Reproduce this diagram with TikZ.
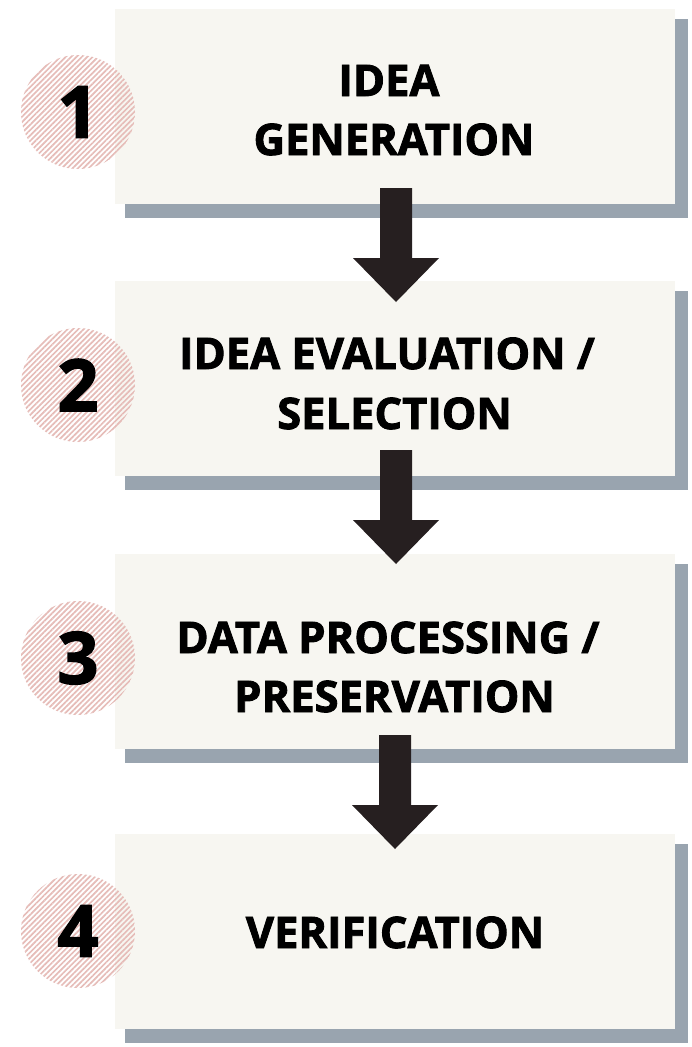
\documentclass[tikz,border=0pt]{standalone}
\usepackage{fontspec}
\usetikzlibrary{calc,backgrounds,patterns.meta}
\IfFontExistsTF{Open Sans ExtraBold}
  {\newfontfamily\heavyface{Open Sans ExtraBold}}
  {\newfontfamily\heavyface{Open Sans Bold}[FakeBold=2]}
\definecolor{boxfill}{RGB}{247,246,241}
\definecolor{shadowc}{RGB}{153,164,175}
\definecolor{arrowc}{RGB}{38,31,32}
\definecolor{hatchc}{RGB}{230,188,184}
\tikzset{
  stepbox/.style={rectangle, fill=boxfill, inner sep=0pt, outer sep=0pt,
    minimum width=560, minimum height=195, anchor=north west},
  numdisc/.style={circle, inner sep=0pt, minimum size=114,
    pattern={Lines[angle=45,distance=3.8pt,line width=1.7pt]}, pattern color=hatchc,
    font=\heavyface\fontsize{72}{80}\selectfont, text=black},
  label/.style={anchor=base, inner sep=0pt, text=black,
    font=\heavyface\fontsize{43.5}{50}\selectfont},
}
% block arrow from shaft top (#1) down to tip (#2)
\newcommand\steparrow[2]{%
  \fill[arrowc] ($(#1)+(-16,0)$) -- ($(#1)+(16,0)$) -- ($(#2)+(16,-44)$)
    -- ($(#2)+(43,-44)$) -- (#2) -- ($(#2)+(-43,-44)$) -- ($(#2)+(-16,-44)$) -- cycle;}
\begin{document}
\begin{tikzpicture}[x=1pt,y=-1pt]
\useasboundingbox (0,0) rectangle (692,1047);
\begin{scope}[on background layer]
  \fill[white] (0,0) rectangle (692,1047);
\end{scope}

% step boxes
\node[stepbox] (b1) at (115,9) {};
\node[stepbox] (b2) at (115,281) {};
\node[stepbox] (b3) at (115,554) {};
\node[stepbox] (b4) at (115,834) {};

% drop shadows behind the boxes
\begin{scope}[on background layer]
  \foreach \b in {b1,b2,b3,b4}
    \fill[shadowc] ($(\b.north west)+(10,10)$) rectangle ($(\b.south east)+(13,14)$);
\end{scope}

% arrows between steps
\coordinate (a1s) at (396,188); \coordinate (a1t) at (396,302);
\coordinate (a2s) at (396,450); \coordinate (a2t) at (396,564);
\coordinate (a3s) at (395,735); \coordinate (a3t) at (395,849);
\steparrow{a1s}{a1t}
\steparrow{a2s}{a2t}
\steparrow{a3s}{a3t}

% numbered discs
\node[numdisc] (n1) at (78,112) {1};
\node[numdisc] (n2) at (78,385) {2};
\node[numdisc] (n3) at (78,658) {3};
\node[numdisc] (n4) at (78,931) {4};

% step titles
\node[label] (t1a) at (389,96) {IDEA};
\node[label] (t1b) at (394,155) {GENERATION};
\node[label] (t2a) at (387,369) {IDEA EVALUATION /};
\node[label] (t2b) at (394.5,429) {SELECTION};
\node[label] (t3a) at (388,653) {DATA PROCESSING /};
\node[label] (t3b) at (394.5,712) {PRESERVATION};
\node[label] (t4) at (395,948) {VERIFICATION};
\end{tikzpicture}
\end{document}
